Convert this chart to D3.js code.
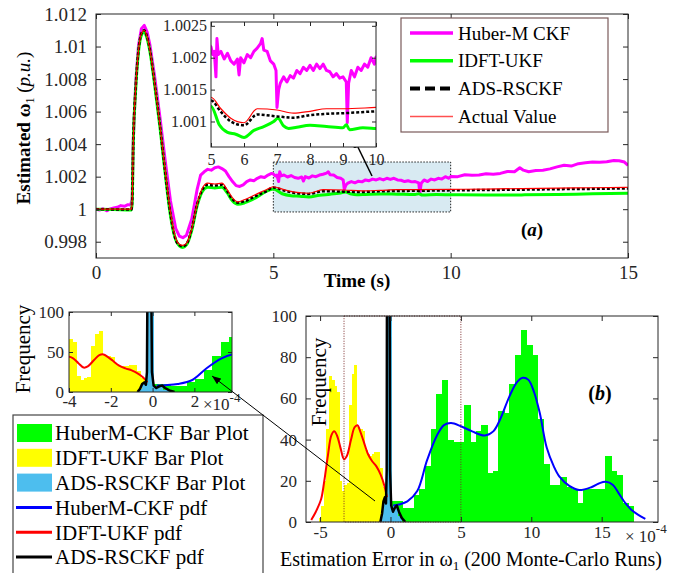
<!DOCTYPE html>
<html>
<head>
<meta charset="utf-8">
<script src="https://cdn.jsdelivr.net/npm/d3@7"></script>
<style>
  body { margin: 0; background: #fff; }
  svg text { font-family: "Liberation Serif", "Times New Roman", serif !important; }
</style>
</head>
<body>
<div id="chart"></div>
<script>
// ---- data (top: estimated frequency vs time) ----
var huberMCKF = [[0,1.0],[0.1,0.99995],[0.2,1.00003],[0.3,0.9999],[0.4,1.00002],[0.5,1.00008],[0.6,1.00012],[0.7,1.00022],[0.8,1.00018],[0.9,1.00028],[0.97,1.00025],
  [1.02,1.0006],[1.05,1.0042],[1.12,1.0078],[1.2,1.0101],[1.28,1.0111],[1.36,1.0113],[1.44,1.0109],[1.52,1.0101],[1.65,1.0082],[1.8,1.0057],[1.95,1.003],
  [2.1,1.0005],[2.25,0.9988],[2.35,0.99835],[2.45,0.99825],[2.55,0.9984],[2.7,0.9994],[2.85,1.0012],[2.95,1.0021],[3.05,1.0023],[3.15,1.00245],[3.25,1.0024],
  [3.35,1.00255],[3.45,1.0026],[3.55,1.0025],[3.65,1.00235],[3.75,1.002],[3.85,1.0017],[3.95,1.00145],[4.05,1.0014],[4.15,1.0015],[4.25,1.0017],[4.35,1.0018],
  [4.45,1.00175],[4.55,1.0019],[4.65,1.002],[4.75,1.00195],[4.85,1.0021],[4.95,1.0022],
  [5.0,1.00217],[5.05,1.00205],[5.1,1.0021],[5.15,1.0017],[5.18,1.0023],[5.22,1.00205],[5.3,1.0021],[5.4,1.00198],[5.5,1.00207],[5.6,1.00195],[5.7,1.0019],
  [5.8,1.00198],[5.85,1.00173],[5.9,1.002],[6.0,1.00192],[6.1,1.00205],[6.2,1.002],[6.3,1.0021],[6.4,1.00215],[6.5,1.00222],[6.55,1.0023],[6.6,1.00212],
  [6.7,1.0021],[6.8,1.00195],[6.9,1.0019],[6.97,1.0018],[7.0,1.00122],[7.05,1.0015],[7.1,1.0016],[7.2,1.0017],[7.3,1.00162],[7.4,1.00172],[7.5,1.00168],
  [7.6,1.0018],[7.7,1.00175],[7.8,1.00185],[7.9,1.0018],[8.0,1.00188],[8.1,1.0018],[8.2,1.0019],[8.3,1.00183],[8.4,1.0019],[8.5,1.0018],[8.6,1.00178],
  [8.7,1.0017],[8.8,1.00175],[8.9,1.00168],[9.0,1.0017],[9.1,1.00162],[9.13,1.00098],[9.17,1.0016],[9.25,1.0018],[9.35,1.0017],[9.45,1.00185],[9.55,1.0018],
  [9.65,1.0019],[9.75,1.00185],[9.85,1.002],[9.95,1.0019],[10.0,1.00201],
  [10.2,1.002],[10.4,1.00212],[10.6,1.00208],[10.8,1.0021],[11.0,1.00218],[11.2,1.00215],[11.4,1.0022],[11.6,1.00232],[11.8,1.0023],[11.95,1.00255],
  [12.05,1.0024],[12.2,1.0023],[12.4,1.00238],[12.6,1.0024],[12.8,1.00248],[13.0,1.0026],[13.2,1.0027],[13.4,1.00265],[13.6,1.0028],[13.8,1.00285],
  [14.0,1.0029],[14.2,1.00288],[14.4,1.00292],[14.6,1.003],[14.75,1.00298],[14.9,1.0029],[15.0,1.0027]];

var idftUKF = [[0,1.0],[0.5,0.99998],[1.0,0.99995],[1.02,1.0004],[1.05,1.0039],[1.12,1.0074],[1.2,1.0097],[1.28,1.0107],[1.36,1.0109],[1.44,1.0105],
  [1.52,1.0097],[1.65,1.0077],[1.8,1.0051],[1.95,1.0022],[2.1,0.9996],[2.25,0.9981],[2.35,0.99775],[2.45,0.99765],[2.55,0.9978],[2.7,0.9987],[2.85,1.0002],
  [3.0,1.0011],[3.15,1.00135],[3.35,1.0013],[3.55,1.00135],[3.7,1.001],[3.85,1.0005],[4.0,1.0003],[4.2,1.0004],[4.5,1.0007],[4.8,1.0011],[5.0,1.00124],
  [5.25,1.00095],[5.5,1.00083],[5.75,1.0008],[6.0,1.00075],[6.3,1.00086],[6.6,1.00092],[6.9,1.001],[7.03,1.00105],[7.2,1.00093],[7.35,1.00089],[7.6,1.00091],
  [8.0,1.00094],[8.5,1.00092],[9.0,1.0009],[9.1,1.00095],[9.2,1.00087],[9.6,1.0009],[10,1.00089],[11,1.00087],[12,1.00088],[13,1.0009],[14,1.00095],[15,1.00098]];

var adsRSCKF = [[0,1.0],[1.0,0.99998],[1.02,1.0005],[1.05,1.004],[1.12,1.0075],[1.2,1.0098],[1.28,1.0108],[1.36,1.011],[1.44,1.0106],[1.52,1.0098],
  [1.65,1.0078],[1.8,1.0052],[1.95,1.0023],[2.1,0.9997],[2.25,0.9981],[2.35,0.9978],[2.45,0.99772],[2.55,0.99785],[2.7,0.9988],[2.85,1.0003],[3.0,1.0012],
  [3.15,1.0015],[3.35,1.00145],[3.55,1.0015],[3.7,1.0011],[3.85,1.0006],[4.0,1.0004],[4.2,1.0005],[4.5,1.0008],[4.8,1.0011],[5.0,1.00133],[5.3,1.00115],
  [5.6,1.001],[6.0,1.00094],[6.4,1.00111],[7.0,1.00108],[7.5,1.00106],[8.0,1.0011],[8.5,1.00112],[9.0,1.00113],[10,1.00116],[11,1.00118],[12,1.0012],
  [13,1.00123],[14,1.00125],[15,1.00128]];

var actualValue = [[0,1.0],[1.0,1.0],[1.02,1.0005],[1.05,1.004],[1.12,1.0075],[1.2,1.0098],[1.28,1.0108],[1.36,1.011],[1.44,1.0106],[1.52,1.0098],
  [1.65,1.0078],[1.8,1.0052],[1.95,1.0024],[2.1,0.9998],[2.25,0.9982],[2.35,0.99785],[2.45,0.99778],[2.55,0.9979],[2.7,0.9988],[2.85,1.0003],[3.0,1.0013],
  [3.15,1.0016],[3.35,1.00155],[3.55,1.0016],[3.7,1.0012],[3.85,1.0007],[4.0,1.00045],[4.2,1.0006],[4.5,1.0009],[4.8,1.0012],[5.0,1.00138],[5.3,1.0012],
  [5.6,1.00105],[6.0,1.00098],[6.4,1.0012],[7.0,1.00118],[7.5,1.00113],[8.0,1.00116],[8.5,1.0012],[9.0,1.0012],[10,1.00122],[11,1.00124],[12,1.00127],
  [13,1.0013],[14,1.00132],[15,1.00135]];

var timeTicks = [0, 5, 10, 15];
var freqTicks = [0.998, 1, 1.002, 1.004, 1.006, 1.008, 1.01, 1.012];
var insetTimeTicks = [5, 6, 7, 8, 9, 10];
var insetFreqTicks = [1.001, 1.0015, 1.002, 1.0025];
var zoomWindow = [5, 10, 0.99983, 1.0029]; // t0, t1, f0, f1 of shaded box

// ---- data (bottom: error histograms, x in 1e-4) ----
var huberStart = 0.05, huberWidth = 0.4;
var huberFreq = [10,10,7,7,13,16,27,45,62,69,40,39,39,57,39,44,47,24,25,54,53,67,81,93,86,81,50,28,18,18,22,17,16,9,16,16,16,16,32,25,23,9,8];
var idftStart = -5.1, idftWidth = 0.18;
var idftFreq = [2,8,20,45,71,69,66,63,20,15,18,19,57,72,76,46,45,44,35,33,32,33,34,34,26,17,8];
var adsStart = -0.67, adsWidth = 0.14;
var adsFreq = [4,10,11,140,140,6,8,7,3,2];

var huberPdf = [[0.2,8],[0.6,8.5],[1.2,10],[1.9,15],[2.6,30],[3.3,42],[3.8,47],[4.3,48],[5.0,46.5],[5.8,44],[6.7,42],[7.3,44],[7.8,50],[8.45,61],
  [9.0,68],[9.4,70],[9.8,69],[10.2,63],[10.6,53],[11.1,36],[11.6,27],[12.0,22],[12.7,17.5],[13.4,15.5],[14.3,17],[14.8,18.7],[15.3,19.5],[15.8,18],
  [16.2,14],[16.7,9],[17.1,6],[17.6,3.5],[18.1,1.5]];
var idftPdf = [[-5.63,1],[-5.3,5],[-4.93,11],[-4.7,20],[-4.45,32],[-4.2,42],[-4.0,44],[-3.8,42],[-3.55,36],[-3.3,30.5],[-3.1,32],[-2.8,40],[-2.55,46],
  [-2.35,47],[-2.15,44],[-1.9,39],[-1.6,33],[-1.3,29.5],[-1.0,27],[-0.7,23],[-0.45,18],[-0.25,12]];
var adsPdf = [[-0.72,0],[-0.6,4],[-0.5,10],[-0.4,12],[-0.32,9],[-0.27,25],[-0.24,160],[-0.07,160],[-0.03,25],[0.05,8],[0.18,5],[0.32,7],[0.45,8],
  [0.6,5],[0.8,2],[1.05,0]];

var errTicks = [-5, 0, 5, 10, 15];
var countTicks = [0, 20, 40, 60, 80, 100];
var insetErrTicks = [-4, -2, 0, 2];
var insetCountTicks = [0, 50, 100];
var selectBox = [-3.3, 5]; // dotted box in the error plot

var ink = "#262626";
var serif = "Liberation Serif, Times New Roman, serif";
var cMag = "#ff00ff", cGreen = "#00ff00", cRed = "#ff0000", cBlue = "#0000ff", cYellow = "#ffff00", cCyan = "#4dbeee";

var svg = d3.select("#chart").append("svg")
  .attr("width", 689)
  .attr("height", 573)
  .attr("font-family", serif);
var defs = svg.append("defs");

function addClip(id, w, h) {
  defs.append("clipPath").attr("id", id).append("rect").attr("width", w).attr("height", h);
}

defs.append("marker").attr("id", "arr")
  .attr("markerUnits", "userSpaceOnUse")
  .attr("markerWidth", 12).attr("markerHeight", 10)
  .attr("refX", 11).attr("refY", 4.5).attr("orient", "auto")
  .append("path").attr("d", "M0,0 L11,4.5 L0,9 Z").attr("fill", "#000");
defs.append("marker").attr("id", "arrSmall")
  .attr("markerUnits", "userSpaceOnUse")
  .attr("markerWidth", 10).attr("markerHeight", 8)
  .attr("refX", 9).attr("refY", 3.5).attr("orient", "auto")
  .append("path").attr("d", "M0,0 L9,3.5 L0,7 Z").attr("fill", "#000");

// box with inside ticks on all four sides (MATLAB style)
function boxAxes(g, x, y, w, h, o) {
  var styleAx = function(sel) {
    sel.attr("font-family", serif).attr("font-size", o.fs);
    sel.select(".domain").remove();
    sel.selectAll("line").attr("stroke", ink);
    sel.selectAll("text").attr("fill", ink);
  };
  g.append("g").attr("transform", `translate(0,${h})`)
    .call(d3.axisBottom(x).tickValues(o.xt).tickSizeInner(-o.tl).tickSizeOuter(0).tickPadding(o.xp).tickFormat(o.xf))
    .call(styleAx);
  g.append("g")
    .call(d3.axisTop(x).tickValues(o.xt).tickSizeInner(-o.tl).tickSizeOuter(0).tickFormat(""))
    .call(styleAx);
  g.append("g")
    .call(d3.axisLeft(y).tickValues(o.yt).tickSizeInner(-o.tl).tickSizeOuter(0).tickPadding(o.yp).tickFormat(o.yf))
    .call(styleAx);
  g.append("g").attr("transform", `translate(${w},0)`)
    .call(d3.axisRight(y).tickValues(o.yt).tickSizeInner(-o.tl).tickSizeOuter(0).tickFormat(""))
    .call(styleAx);
  g.append("rect").attr("width", w).attr("height", h)
    .attr("fill", "none").attr("stroke", ink);
}

// ================= top chart =================
var mw = 532, mh = 244;
var mainG = svg.append("g").attr("transform", "translate(96,14)");
var xMain = d3.scaleLinear().domain([0, 15]).range([0, mw]);
var yMain = d3.scaleLinear().domain([0.997, 1.012]).range([mh, 0]);
addClip("clipMain", mw, mh);

var plotMain = mainG.append("g").attr("clip-path", "url(#clipMain)");
plotMain.append("rect")
  .attr("x", xMain(zoomWindow[0]))
  .attr("y", yMain(zoomWindow[3]))
  .attr("width", xMain(zoomWindow[1]) - xMain(zoomWindow[0]))
  .attr("height", yMain(zoomWindow[2]) - yMain(zoomWindow[3]))
  .attr("fill", "#d8eaf2")
  .attr("stroke", "#222")
  .attr("stroke-dasharray", "1.5,1.5");

function drawSeries(g, x, y) {
  var smooth = d3.line().x(d => x(d[0])).y(d => y(d[1])).curve(d3.curveMonotoneX);
  var rough = d3.line().x(d => x(d[0])).y(d => y(d[1]));
  g.append("path").datum(huberMCKF).attr("d", rough)
    .attr("fill", "none").attr("stroke", cMag).attr("stroke-width", 3).attr("stroke-linejoin", "round");
  g.append("path").datum(idftUKF).attr("d", smooth)
    .attr("fill", "none").attr("stroke", cGreen).attr("stroke-width", 3);
  g.append("path").datum(adsRSCKF).attr("d", smooth)
    .attr("fill", "none").attr("stroke", "#000").attr("stroke-width", 2.5).attr("stroke-dasharray", "3,2");
  g.append("path").datum(actualValue).attr("d", smooth)
    .attr("fill", "none").attr("stroke", cRed).attr("stroke-width", 1.2);
}
drawSeries(plotMain, xMain, yMain);

boxAxes(mainG, xMain, yMain, mw, mh, {
  xt: timeTicks, yt: freqTicks, tl: 5, fs: 19, xp: 8, yp: 9,
  xf: d => String(d), yf: d => String(+d.toFixed(3))
});

mainG.append("text")
  .attr("x", 261).attr("y", 273)
  .attr("text-anchor", "middle").attr("font-size", 19).attr("font-weight", "bold").attr("fill", "#000")
  .text("Time (s)");

var yLab = svg.append("text")
  .attr("transform", "translate(30,128) rotate(-90)")
  .attr("text-anchor", "middle").attr("font-size", 19).attr("fill", "#000");
yLab.append("tspan").attr("font-weight", "bold").text("Estimated ω");
yLab.append("tspan").attr("font-size", 12).attr("dy", 4).text("1");
yLab.append("tspan").attr("dy", -4).text(" (");
yLab.append("tspan").attr("font-style", "italic").text("p.u.");
yLab.append("tspan").text(")");

var aLab = svg.append("text")
  .attr("x", 532).attr("y", 236)
  .attr("text-anchor", "middle").attr("font-size", 19).attr("font-weight", "bold").attr("fill", "#000");
aLab.append("tspan").text("(");
aLab.append("tspan").attr("font-style", "italic").text("a");
aLab.append("tspan").text(")");

// arrow from zoom box to inset
svg.append("line")
  .attr("x1", 372).attr("y1", 176).attr("x2", 353).attr("y2", 137)
  .attr("stroke", "#000").attr("stroke-width", 1.5).attr("marker-end", "url(#arr)");

// inset
var iw = 165, ih = 125;
var insetG = svg.append("g").attr("transform", "translate(211,22)");
var xIn = d3.scaleLinear().domain([5, 10]).range([0, iw]);
var yIn = d3.scaleLinear().domain([1.0006, 1.00256]).range([ih, 0]);
addClip("clipInset", iw, ih);
insetG.append("rect").attr("width", iw).attr("height", ih).attr("fill", "#fff");
var plotIn = insetG.append("g").attr("clip-path", "url(#clipInset)");
drawSeries(plotIn, xIn, yIn);
boxAxes(insetG, xIn, yIn, iw, ih, {
  xt: insetTimeTicks, yt: insetFreqTicks, tl: 4, fs: 16, xp: 7, yp: 4,
  xf: d => String(d), yf: d => String(+d.toFixed(4))
});

// top legend
var legTop = svg.append("g").attr("transform", "translate(401,18)");
legTop.append("rect").attr("width", 207).attr("height", 114)
  .attr("fill", "#fff").attr("stroke", "#7a5a5a").attr("stroke-width", 1.2);
var topItems = [
  { name: "Huber-M CKF", color: cMag, w: 3.5, dash: null },
  { name: "IDFT-UKF", color: cGreen, w: 3.5, dash: null },
  { name: "ADS-RSCKF", color: "#000", w: 4, dash: "10,5" },
  { name: "Actual Value", color: "#ff5050", w: 1.5, dash: null }
];
topItems.forEach(function(it, i) {
  var yy = 15 + i * 27.8;
  legTop.append("line").attr("x1", 9).attr("x2", 52).attr("y1", yy).attr("y2", yy)
    .attr("stroke", it.color).attr("stroke-width", it.w).attr("stroke-dasharray", it.dash);
  legTop.append("text").attr("x", 57).attr("y", yy).attr("dy", "0.35em")
    .attr("font-size", 19).attr("fill", "#000").text(it.name);
});

// ================= bottom right: error histogram =================
var bw = 352, bh = 206;
var histG = svg.append("g").attr("transform", "translate(306,316)");
var xErr = d3.scaleLinear().domain([-6, 19]).range([0, bw]);
var yCnt = d3.scaleLinear().domain([0, 100]).range([bh, 0]);
addClip("clipHist", bw, bh);

function drawHist(g, x, y) {
  function bars(freq, start, width, color) {
    g.append("g").attr("shape-rendering", "crispEdges")
      .selectAll("rect").data(freq).join("rect")
      .attr("x", (d, i) => x(start + i * width))
      .attr("width", (d, i) => x(start + (i + 1) * width) - x(start + i * width) + 0.8)
      .attr("y", d => y(d))
      .attr("height", d => y(0) - y(d))
      .attr("fill", color);
  }
  bars(huberFreq, huberStart, huberWidth, cGreen);
  bars(idftFreq, idftStart, idftWidth, cYellow);
  bars(adsFreq, adsStart, adsWidth, cCyan);
  var curve = d3.line().x(d => x(d[0])).y(d => y(d[1])).curve(d3.curveCatmullRom);
  var straight = d3.line().x(d => x(d[0])).y(d => y(d[1]));
  g.append("path").datum(huberPdf).attr("d", curve).attr("fill", "none").attr("stroke", cBlue).attr("stroke-width", 2);
  g.append("path").datum(idftPdf).attr("d", curve).attr("fill", "none").attr("stroke", cRed).attr("stroke-width", 2);
  g.append("path").datum(adsPdf).attr("d", straight).attr("fill", "none").attr("stroke", "#000").attr("stroke-width", 2.5)
    .attr("stroke-linejoin", "round");
}
var plotHist = histG.append("g").attr("clip-path", "url(#clipHist)");
drawHist(plotHist, xErr, yCnt);

histG.append("rect")
  .attr("x", xErr(selectBox[0])).attr("y", 0)
  .attr("width", xErr(selectBox[1]) - xErr(selectBox[0])).attr("height", bh)
  .attr("fill", "none").attr("stroke", "#7a2a2a").attr("stroke-width", 1).attr("stroke-dasharray", "1,1.5");

boxAxes(histG, xErr, yCnt, bw, bh, {
  xt: errTicks, yt: countTicks, tl: 5, fs: 17, xp: 4, yp: 9,
  xf: d => String(d), yf: d => String(d)
});

svg.append("text")
  .attr("transform", "translate(326,382) rotate(-90)")
  .attr("text-anchor", "middle").attr("font-size", 21).attr("fill", "#000")
  .text("Frequency");

var bLab = svg.append("text")
  .attr("x", 600).attr("y", 400)
  .attr("text-anchor", "middle").attr("font-size", 20).attr("font-weight", "bold").attr("fill", "#000");
bLab.append("tspan").text("(");
bLab.append("tspan").attr("font-style", "italic").text("b");
bLab.append("tspan").text(")");

var expR = svg.append("text").attr("x", 625).attr("y", 542).attr("font-size", 17).attr("fill", ink);
expR.append("tspan").text("× 10");
expR.append("tspan").attr("font-size", 13).attr("dy", -9).text("-4");

var xLab = svg.append("text")
  .attr("x", 471).attr("y", 566)
  .attr("text-anchor", "middle").attr("font-size", 20).attr("fill", "#000");
xLab.append("tspan").text("Estimation Error in ω");
xLab.append("tspan").attr("font-size", 13).attr("dy", 4).text("1");
xLab.append("tspan").attr("dy", -4).text(" (200 Monte-Carlo Runs)");

// ================= bottom left: zoomed histogram =================
var sw = 163, sh = 80;
var smallG = svg.append("g").attr("transform", "translate(69,312)");
var xSm = d3.scaleLinear().domain([-4, 3.8]).range([0, sw]);
var ySm = d3.scaleLinear().domain([0, 100]).range([sh, 0]);
addClip("clipSmall", sw, sh);
smallG.append("rect").attr("width", sw).attr("height", sh).attr("fill", "#fff");
var plotSm = smallG.append("g").attr("clip-path", "url(#clipSmall)");
drawHist(plotSm, xSm, ySm);
boxAxes(smallG, xSm, ySm, sw, sh, {
  xt: insetErrTicks, yt: insetCountTicks, tl: 4, fs: 17, xp: 3, yp: 5,
  xf: d => String(d), yf: d => String(d)
});

var expL = svg.append("text").attr("x", 203).attr("y", 410).attr("font-size", 17).attr("fill", ink);
expL.append("tspan").text("×10");
expL.append("tspan").attr("font-size", 13).attr("dy", -8).text("-4");

svg.append("text")
  .attr("transform", "translate(30,349) rotate(-90)")
  .attr("text-anchor", "middle").attr("font-size", 21).attr("fill", "#000")
  .text("Frequency");

// bottom legend
var legBot = svg.append("g").attr("transform", "translate(13,415)");
legBot.append("rect").attr("width", 250).attr("height", 175)
  .attr("fill", "#fff").attr("stroke", "#444").attr("stroke-width", 1.2);
var botItems = [
  { name: "HuberM-CKF Bar Plot", color: cGreen, kind: "bar" },
  { name: "IDFT-UKF Bar Plot", color: cYellow, kind: "bar" },
  { name: "ADS-RSCKF Bar Plot", color: cCyan, kind: "bar" },
  { name: "HuberM-CKF pdf", color: cBlue, kind: "line" },
  { name: "IDFT-UKF pdf", color: cRed, kind: "line" },
  { name: "ADS-RSCKF pdf", color: "#000", kind: "line" }
];
botItems.forEach(function(it, i) {
  var yy = 18 + i * 24.8;
  if (it.kind === "bar") {
    legBot.append("rect").attr("x", 4).attr("y", yy - 9).attr("width", 35).attr("height", 18).attr("fill", it.color);
  } else {
    legBot.append("line").attr("x1", 3).attr("x2", 39).attr("y1", yy).attr("y2", yy)
      .attr("stroke", it.color).attr("stroke-width", 3);
  }
  legBot.append("text").attr("x", 42).attr("y", yy).attr("dy", "0.35em")
    .attr("font-size", 21).attr("fill", "#000").text(it.name);
});

// leader arrow from error plot to zoomed inset
svg.append("line")
  .attr("x1", 375).attr("y1", 501).attr("x2", 212).attr("y2", 376)
  .attr("stroke", "#000").attr("stroke-width", 1).attr("marker-end", "url(#arrSmall)");
</script>
</body>
</html>
